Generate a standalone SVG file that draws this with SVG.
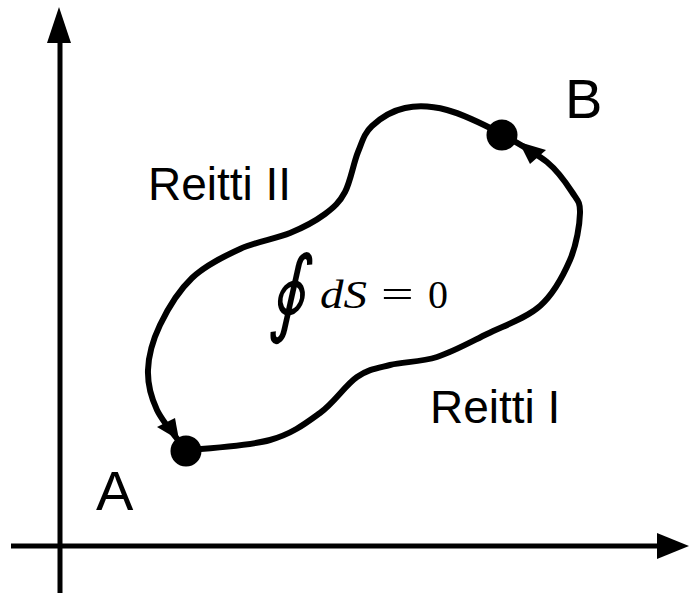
<svg xmlns="http://www.w3.org/2000/svg" width="689" height="593" viewBox="0 0 689 593">
<style>
.axis{stroke:#000;stroke-width:5;fill:none}
.curve{stroke:#000;stroke-width:6;fill:none;stroke-linecap:round}
.lbl{font-family:"Liberation Sans",Arial,sans-serif;fill:#000}
.math{font-family:"Liberation Serif","DejaVu Serif",serif;fill:#000}
</style>
<rect width="689" height="593" fill="#fff"/>
<g id="axes">
<line class="axis" x1="60" y1="40" x2="60" y2="593"/>
<polygon points="59,7 47,43 71,43" fill="#000"/>
<line class="axis" x1="11" y1="546" x2="660" y2="546"/>
<polygon points="689,546 657,533 657,559" fill="#000"/>
</g>
<g id="connectors">
<path id="reitti1" class="curve" d="M186,450 C200,449 247.7,446.2 270,440 C292.3,433.8 305.5,423.5 320,413 C334.5,402.5 345.3,385 357,377 C368.7,369 376.7,368.3 390,365 C403.3,361.7 420.8,362.2 437,357 C453.2,351.8 469.8,342.5 487,334 C504.2,325.5 526.2,318.3 540,306 C553.8,293.7 563.3,275.5 570,260 C576.7,244.5 579.7,224.3 580,213 C580.3,201.7 577.5,200.5 572,192 C566.5,183.5 558.7,171.7 547,162 C535.3,152.3 509.5,138.7 502,134"/>
<path id="reitti2" class="curve" d="M502,134 C485.3,125.3 463.2,114.3 447,110 C430.8,105.7 417.5,105.3 405,108 C392.5,110.7 379.8,118.7 372,126 C364.2,133.3 362.5,141 358,152 C353.5,163 350.5,181.7 345,192 C339.5,202.3 334.2,207.2 325,214 C315.8,220.8 304.2,227.2 290,233 C275.8,238.8 256.3,241.5 240,249 C223.7,256.5 205.3,265.3 192,278 C178.7,290.7 167.3,309.7 160,325 C152.7,340.3 148.5,355.8 148,370 C147.5,384.2 150.7,396.7 157,410 C163.3,423.3 181.2,443.3 186,450"/>
<polygon points="179,440 157,427 175,418" fill="#000"/>
<polygon points="519,142 530,164 546,150" fill="#000"/>
</g>
<g id="nodeA">
<circle cx="186" cy="451" r="15.5" fill="#000"/>
<text class="lbl" x="96" y="510" font-size="56">A</text>
</g>
<g id="nodeB">
<circle cx="502" cy="135" r="15.5" fill="#000"/>
<text class="lbl" x="565" y="118" font-size="56">B</text>
</g>
<g id="labels">
<text class="lbl" x="148" y="200" font-size="46">Reitti II</text>
<text class="lbl" x="430" y="423" font-size="46">Reitti I</text>
<text class="math" transform="translate(268,324) scale(0.75,1)" font-size="95" font-family="DejaVu Serif" font-style="italic">∮</text>
<text class="math" x="320" y="308" font-size="40" font-style="italic" textLength="47" lengthAdjust="spacingAndGlyphs">dS</text>
<text class="math" transform="translate(381,308) scale(1.45,1)" font-size="40">=</text>
<text class="math" x="428" y="308" font-size="40">0</text>
</g>
</svg>
